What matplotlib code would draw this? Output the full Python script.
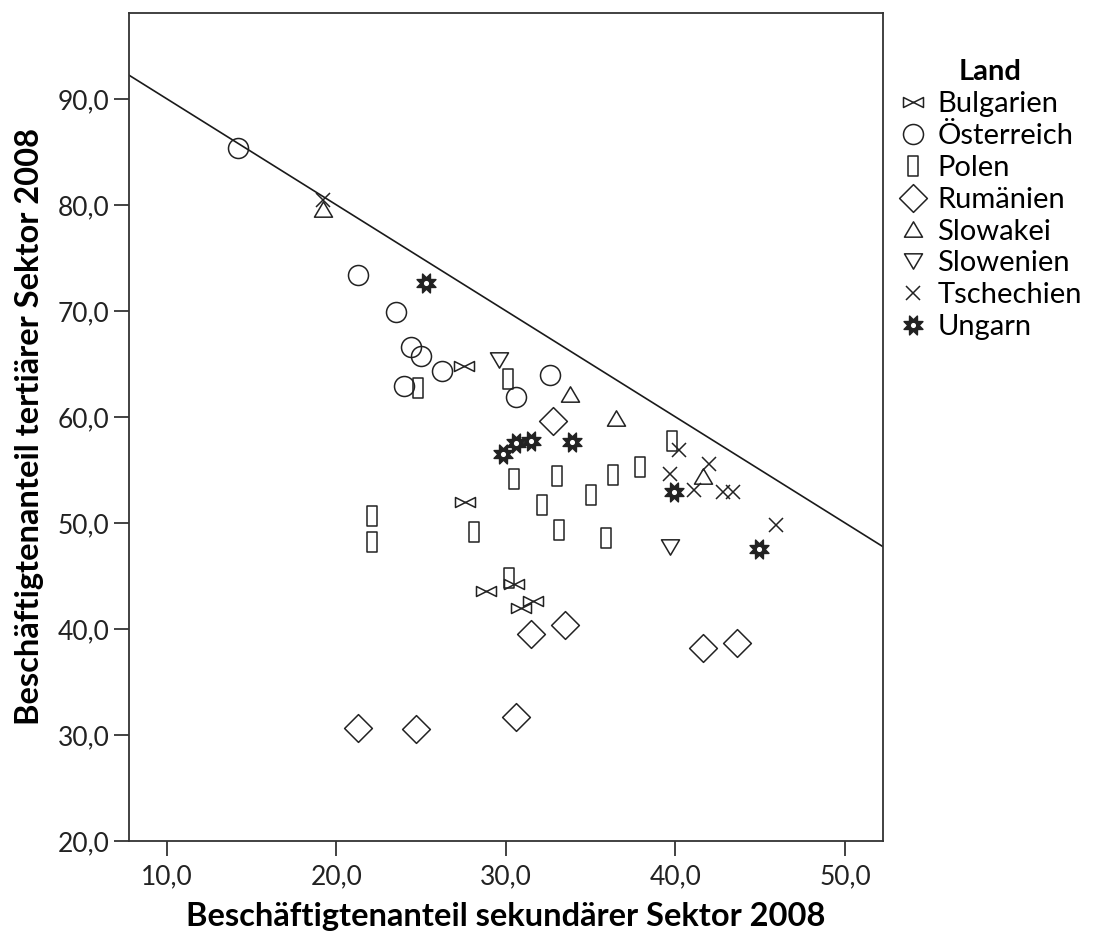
import matplotlib
matplotlib.use("Agg")
import matplotlib.pyplot as plt
import numpy as np
from matplotlib.path import Path
from matplotlib.ticker import FuncFormatter

plt.rcParams['font.family'] = ['Lato', 'DejaVu Sans']

# secondary sector share (x) and tertiary sector share (y), 2008
bulgarien_x = [27.5, 27.6, 28.8, 30.5, 31.6, 30.9]
bulgarien_y = [64.8, 52.0, 43.6, 44.2, 42.6, 42.0]

oesterreich_x = [14.2, 21.3, 23.5, 24.4, 25.0, 26.2, 24.0, 30.6, 32.6]
oesterreich_y = [85.4, 73.4, 69.9, 66.6, 65.7, 64.3, 62.9, 61.9, 64.0]

polen_x = [24.8, 30.1, 30.5, 33.0, 36.3, 35.0, 32.1, 22.1, 22.1, 28.1, 33.1, 35.9, 30.2, 39.8, 37.9]
polen_y = [62.7, 63.6, 54.1, 54.4, 54.5, 52.6, 51.7, 50.7, 48.2, 49.1, 49.3, 48.6, 44.8, 57.7, 55.3]

rumaenien_x = [32.8, 31.5, 33.5, 41.6, 43.6, 21.3, 24.7, 30.6]
rumaenien_y = [59.6, 39.5, 40.4, 38.2, 38.7, 30.7, 30.6, 31.7]

slowakei_x = [19.2, 33.8, 36.5, 41.6]
slowakei_y = [79.6, 62.2, 59.9, 54.4]

slowenien_x = [29.6, 39.7]
slowenien_y = [65.4, 47.7]

tschechien_x = [19.2, 40.2, 42.0, 39.7, 41.1, 42.8, 43.4, 45.9]
tschechien_y = [80.5, 56.9, 55.6, 54.6, 53.1, 52.9, 52.9, 49.8]

ungarn_x = [25.3, 29.8, 30.6, 31.5, 33.9, 39.9, 44.9]
ungarn_y = [72.6, 56.5, 57.5, 57.7, 57.6, 52.9, 47.5]

# upper bound: tertiary = 100 - secondary
line_intercept = 100.0
line_slope = -1.0


def poly_marker(pts):
    pts = list(pts) + [pts[0]]
    codes = [Path.MOVETO] + [Path.LINETO] * (len(pts) - 2) + [Path.CLOSEPOLY]
    return Path(pts, codes)


bowtie = poly_marker([(-1, 0.5), (-1, -0.5), (1, 0.5), (1, -0.5)])
rect = poly_marker([(-0.5, -1), (0.5, -1), (0.5, 1), (-0.5, 1)])
diamond = poly_marker([(0, 1), (1, 0), (0, -1), (-1, 0)])
tri_up = poly_marker([(0, 0.85), (-1, -0.85), (1, -0.85)])
tri_down = poly_marker([(0, -0.85), (1, 0.85), (-1, 0.85)])

# eight pointed star with a hole in the middle
ang = np.linspace(0, 2 * np.pi, 16, endpoint=False) + np.pi / 8
rad = np.where(np.arange(16) % 2 == 0, 1.0, 0.55)
star_outer = poly_marker(list(zip(rad * np.cos(ang), rad * np.sin(ang))))
ca = np.linspace(0, -2 * np.pi, 24, endpoint=False)
star_inner = poly_marker(list(zip(0.33 * np.cos(ca), 0.33 * np.sin(ca))))
star = Path.make_compound_path(star_outer, star_inner)

fig = plt.figure(figsize=(11.04, 9.43), dpi=100)
ax = fig.add_axes([0.1168, 0.1082, 0.683, 0.878])

xlim = (7.76, 52.24)
ax.set_xlim(*xlim)
ax.set_ylim(20, 98.1)

lx = np.array(xlim)
ax.plot(lx, line_intercept + line_slope * lx, color='#1a1a1a', lw=1.2, zorder=1)

ec = '#222222'
mlw = 1.1
series = [
    ('Bulgarien', bulgarien_x, bulgarien_y, bowtie, 14.4, 'none'),
    ('Österreich', oesterreich_x, oesterreich_y, 'o', 14.4, 'none'),
    ('Polen', polen_x, polen_y, rect, 14.6, 'none'),
    ('Rumänien', rumaenien_x, rumaenien_y, diamond, 20.0, 'none'),
    ('Slowakei', slowakei_x, slowakei_y, tri_up, 13.0, 'none'),
    ('Slowenien', slowenien_x, slowenien_y, tri_down, 13.0, 'none'),
    ('Tschechien', tschechien_x, tschechien_y, 'x', 10.5, 'none'),
    ('Ungarn', ungarn_x, ungarn_y, star, 13.5, ec),
]
for name, xs, ys, mk, ms, fc in series:
    ax.plot(xs, ys, linestyle='none', marker=mk, markersize=ms,
            markerfacecolor=fc, markeredgecolor=ec, markeredgewidth=mlw,
            label=name, zorder=3)

fmt = FuncFormatter(lambda v, p: f"{v:.1f}".replace('.', ','))
ax.set_xticks([10, 20, 30, 40, 50])
ax.set_yticks([20, 30, 40, 50, 60, 70, 80, 90])
ax.xaxis.set_major_formatter(fmt)
ax.yaxis.set_major_formatter(fmt)
ax.tick_params(direction='out', length=11, width=1.2, labelsize=19,
               colors='#222222', pad=3)
ax.tick_params(axis='x', pad=6)

for s in ax.spines.values():
    s.set_linewidth(1.3)
    s.set_color('#333333')

ax.set_xlabel('Beschäftigtenanteil sekundärer Sektor 2008', fontsize=23.5,
              fontweight='bold', labelpad=9)
ax.set_ylabel('Beschäftigtenanteil tertiärer Sektor 2008', fontsize=23.5,
              fontweight='bold', labelpad=10)

leg = ax.legend(loc='upper left', bbox_to_anchor=(1.02, 0.944), frameon=False,
                fontsize=21, title='Land',
                title_fontproperties={'weight': 'bold', 'size': 21},
                handlelength=1.0, handletextpad=0.35, labelspacing=0.2,
                borderaxespad=0.0, borderpad=0.0)

fig.savefig('out.png', dpi=100)
